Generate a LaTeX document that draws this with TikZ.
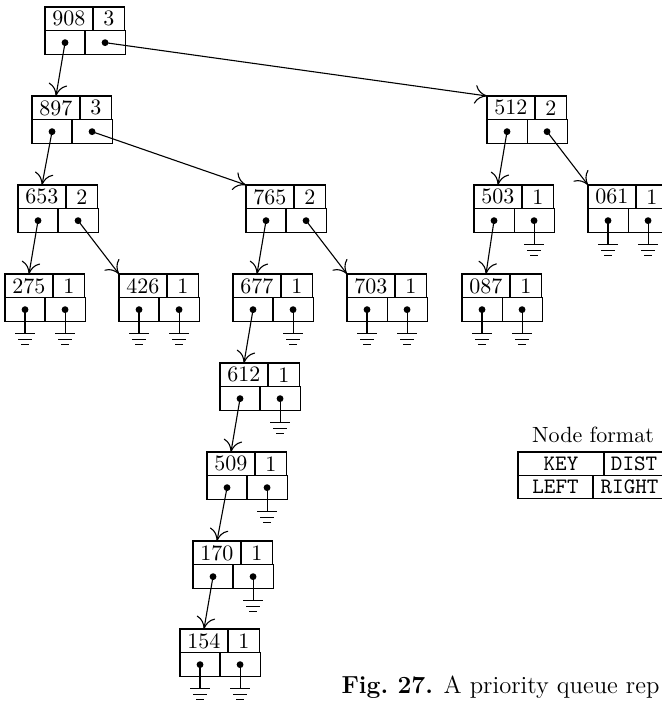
\documentclass[tikz,border=0pt]{standalone}
\usetikzlibrary{arrows.meta}

\newcommand{\pqnode}[5]{%
  \node[keycell, anchor=north west] (#1) at (#2,#3) {#4};
  \node[distcell, anchor=north west] (#1d) at (#1.north east) {#5};
  \node[ptrcell, anchor=north west] (#1l) at (#1.south west) {};
  \node[ptrcell, anchor=north west] (#1r) at (#1l.north east) {};
  \node[ptrdot] (#1lp) at (#1l.center) {};
  \node[ptrdot] (#1rp) at (#1r.center) {};
}

\begin{document}
\begin{tikzpicture}[x=0.4545pt, y=-0.4545pt, line width=0.5pt,
    >={To[length=5.5pt,width=8.5pt]},
    cell/.style={draw, rectangle, inner sep=0pt, outer sep=0pt, minimum height=10.8pt},
    keycell/.style={cell, minimum width=21.8pt},
    distcell/.style={cell, minimum width=14.5pt},
    ptrcell/.style={cell, minimum width=18.2pt},
    ptrdot/.style={circle, fill, inner sep=0pt, minimum size=3.1pt},
    fmtcell/.style={cell, minimum height=10.5pt, font=\ttfamily},
    ground/.pic={\draw (0,0) -- (0,24) (-10,24) -- (10,24) (-7,29.5) -- (7,29.5) (-4,35) -- (4,35);}]
    \useasboundingbox (0,0) rectangle (662,704);
    % tree
    \pqnode{n908}{45}{7}{908}{3}
    \pqnode{n897}{32}{96}{897}{3}
    \pqnode{n512}{487}{96}{512}{2}
    \pqnode{n653}{18}{185}{653}{2}
    \pqnode{n765}{246}{185}{765}{2}
    \pqnode{n503}{474}{185}{503}{1}
    \pqnode{n061}{588}{185}{061}{1}
    \pqnode{n275}{5}{274}{275}{1}
    \pqnode{n426}{119}{274}{426}{1}
    \pqnode{n677}{233}{274}{677}{1}
    \pqnode{n703}{347}{274}{703}{1}
    \pqnode{n087}{462}{274}{087}{1}
    \pqnode{n612}{220}{363}{612}{1}
    \pqnode{n509}{207}{452}{509}{1}
    \pqnode{n170}{193}{541}{170}{1}
    \pqnode{n154}{180}{629}{154}{1}
    \draw[->] (n908lp.center) -- (n897.north);
    \draw[->] (n908rp.center) -- (n512.north west);
    \draw[->] (n897lp.center) -- (n653.north);
    \draw[->] (n897rp.center) -- (n765.north west);
    \draw[->] (n512lp.center) -- (n503.north);
    \draw[->] (n512rp.center) -- (n061.north west);
    \draw[->] (n653lp.center) -- (n275.north);
    \draw[->] (n653rp.center) -- (n426.north west);
    \draw[->] (n765lp.center) -- (n677.north);
    \draw[->] (n765rp.center) -- (n703.north west);
    \draw[->] (n503lp.center) -- (n087.north);
    \draw[->] (n677lp.center) -- (n612.north);
    \draw[->] (n612lp.center) -- (n509.north);
    \draw[->] (n509lp.center) -- (n170.north);
    \draw[->] (n170lp.center) -- (n154.north);
    % nil pointers
    \foreach \n in {n503r, n061l, n061r, n275l, n275r, n426l, n426r, n677r,
                    n703l, n703r, n087l, n087r, n612r, n509r, n170r, n154l, n154r}
        \pic at (\n p.center) {ground};
    % legend
    \node[anchor=base] (fmt) at (593,442) {Node format};
    \node[fmtcell, minimum width=39.1pt, anchor=north west] (fkey) at (518,452) {KEY};
    \node[fmtcell, minimum width=27.3pt, anchor=north west] (fdist) at (fkey.north east) {DIST};
    \node[fmtcell, minimum width=34.1pt, anchor=north west] (fleft) at (fkey.south west) {LEFT};
    \node[fmtcell, minimum width=33.2pt, anchor=north west] (fright) at (fleft.north east) {RIGHT};
    \node[anchor=base west, inner sep=0pt, font=\fontsize{11.2}{13}\selectfont] (cap) at (341,693)
        {\textbf{Fig.\ 27.} A priority queue rep};
\end{tikzpicture}
\end{document}
